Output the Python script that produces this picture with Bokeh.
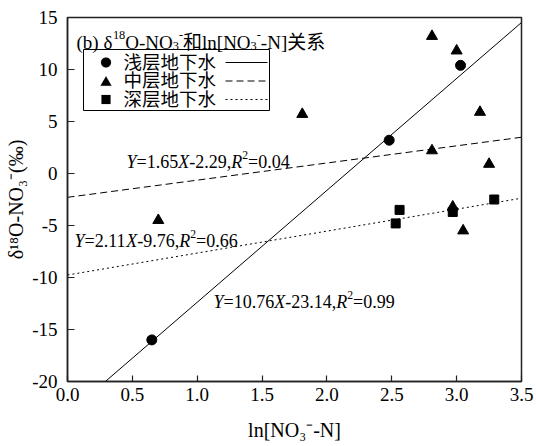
import math
from bokeh.plotting import figure
from bokeh.models import (Range1d, FixedTicker, Label, BoxAnnotation, PolyAnnotation, Arrow)
from bokeh.embed import file_html
from bokeh.resources import INLINE

# ---------------- data ----------------
shallow_x = [0.65, 2.48, 3.03]
shallow_y = [-16.0, 3.2, 10.4]
middle_x = [0.70, 1.81, 2.81, 3.00, 3.18, 2.81, 3.25, 2.97, 3.05]
middle_y = [-4.5, 5.7, 13.2, 11.8, 5.9, 2.2, 0.9, -3.2, -5.5]
deep_x = [2.53, 2.56, 2.97, 3.29]
deep_y = [-4.8, -3.5, -3.7, -2.5]

series_names = ["浅层地下水", "中层地下水", "深层地下水"]
fit_slope = [10.76, 1.65, 2.11]
fit_intercept = [-23.14, -2.29, -9.76]
fit_r2 = [0.99, 0.04, 0.66]

x_ticks = [0.0, 0.5, 1.0, 1.5, 2.0, 2.5, 3.0, 3.5]
x_tick_labels = ["0.0", "0.5", "1.0", "1.5", "2.0", "2.5", "3.0", "3.5"]
y_ticks = [-20, -15, -10, -5, 0, 5, 10, 15]
y_tick_labels = ["-20", "-15", "-10", "-5", "0", "5", "10", "15"]

x_title = "ln[NO₃⁻-N]"
y_title = "δ¹⁸O-NO₃⁻(‰)"

SERIF = "Liberation Serif"
FONT = "Liberation Serif, Noto Sans CJK SC"
W, H = 536, 446
FL, FR, FT, FB = 67, 15, 17, 65
FRAME_BOTTOM = H - FB


def sx(cx):
    return cx - FL


def sy(cy):
    return FRAME_BOTTOM - cy


p = figure(width=W, height=H, output_backend="svg", toolbar_location=None, tools="",
           x_range=Range1d(x_ticks[0], x_ticks[-1]), y_range=Range1d(y_ticks[0], y_ticks[-1]),
           min_border_left=FL, min_border_right=FR, min_border_top=FT, min_border_bottom=FB)
p.background_fill_color = "white"
p.border_fill_color = "white"
p.outline_line_color = "#222222"
p.outline_line_width = 1.5
p.xgrid.visible = False
p.ygrid.visible = False

p.xaxis.ticker = FixedTicker(ticks=x_ticks)
p.yaxis.ticker = FixedTicker(ticks=y_ticks)
p.xaxis.major_label_overrides = {t: l for t, l in zip(x_ticks, x_tick_labels)}
p.yaxis.major_label_overrides = {t: l for t, l in zip(y_ticks, y_tick_labels)}
for ax in (p.xaxis, p.yaxis):
    ax.axis_line_color = "#222222"
    ax.axis_line_width = 1.5
    ax.major_tick_line_color = "#222222"
    ax.major_tick_line_width = 1.2
    ax.major_tick_out = 0
    ax.minor_tick_in = 0
    ax.minor_tick_out = 0
    ax.major_label_text_font = SERIF
    ax.major_label_text_font_size = "19px"
    ax.major_label_text_color = "black"
    ax.axis_label_text_font = SERIF
    ax.axis_label_text_font_size = "20px"
    ax.axis_label_text_font_style = "normal"
    ax.axis_label_text_color = "black"
p.xaxis.major_tick_in = 6
p.yaxis.major_tick_in = 7
p.xaxis.major_label_standoff = 6
p.yaxis.major_label_standoff = 10
p.xaxis.axis_label = x_title
p.yaxis.axis_label = y_title
p.xaxis.axis_label_standoff = 15
p.yaxis.axis_label_standoff = 2

# ---------------- fit lines ----------------
dashes = ["solid", "7 4", "2 3"]
fit_x = [x_ticks[0], x_ticks[-1]]
for a, b, d in zip(fit_slope, fit_intercept, dashes):
    ys = [a * x + b for x in fit_x]
    p.line(fit_x, ys, line_color="black", line_width=1, line_dash=d)

# ---------------- points ----------------
p.scatter(shallow_x, shallow_y, marker="circle", size=10, color="black")
p.scatter(middle_x, middle_y, marker="triangle", size=11, color="black")
p.scatter(deep_x, deep_y, marker="square", size=9, color="black")

# ---------------- legend (drawn as annotations) ----------------
LEG_L, LEG_R, LEG_T, LEG_B = 83, 269, 49, 110
ROWS = [62, 80.5, 99]
KEY_X, TEXT_X, LINE_X0, LINE_X1 = 105.5, 123, 225, 267
p.add_layout(BoxAnnotation(left=sx(LEG_L), right=sx(LEG_R), top=sy(LEG_T), bottom=sy(LEG_B),
                           left_units="screen", right_units="screen",
                           top_units="screen", bottom_units="screen",
                           fill_color="white", fill_alpha=1.0,
                           line_color="black", line_width=1, line_alpha=1.0))


def key_shape(kind, cx, cy):
    if kind == "circle":
        r = 5.0
        pts = [(cx + r * math.cos(2 * math.pi * i / 28), cy + r * math.sin(2 * math.pi * i / 28))
               for i in range(28)]
    elif kind == "triangle":
        half, h = 5.5, 9.5
        pts = [(cx - half, cy + h / 2), (cx + half, cy + h / 2), (cx, cy - h / 2)]
    else:
        s = 4.5
        pts = [(cx - s, cy - s), (cx + s, cy - s), (cx + s, cy + s), (cx - s, cy + s)]
    return [sx(x) for x, _ in pts], [sy(y) for _, y in pts]


for kind, name, d, ry in zip(["circle", "triangle", "square"], series_names, dashes, ROWS):
    xs, ys = key_shape(kind, KEY_X, ry)
    p.add_layout(PolyAnnotation(xs=xs, ys=ys, xs_units="screen", ys_units="screen",
                                fill_color="black", fill_alpha=1.0, line_color="black", line_width=0.5))
    p.add_layout(Label(x=sx(TEXT_X), y=sy(ry), x_units="screen", y_units="screen", text=name,
                       text_font=FONT, text_font_size="18.5px", text_color="black",
                       text_align="left", text_baseline="middle"))
    p.add_layout(Arrow(x_start=sx(LINE_X0), y_start=sy(ry), x_end=sx(LINE_X1), y_end=sy(ry),
                       start_units="screen", end_units="screen", start=None, end=None,
                       line_color="black", line_width=1, line_dash=d))

# ---------------- rich text helper ----------------
WN = {' ': 250, '(': 333, ')': 333, '[': 333, ']': 333, 'b': 500, 'l': 278, 'n': 500,
      'N': 722, 'O': 722, '-': 333, '.': 250, ',': 250, '=': 564, '+': 564,
      'δ': 500, '‰': 1000}
for ch in "0123456789":
    WN[ch] = 500
WI = {'Y': 556, 'X': 611, 'R': 611}


def run_width(text, kind, size):
    fs = size * 0.65 if kind in ("sup", "sub") else size
    if kind == "cjk":
        return len(text) * fs
    tot = 0
    for ch in text:
        if kind == "i" and ch in WI:
            tot += WI[ch]
        else:
            tot += WN.get(ch, 500)
    return tot * fs / 1000.0


def put_runs(runs, cx, cy, size):
    """cx, cy: canvas position (px from top-left) of the baseline start."""
    pos = 0.0
    for text, kind in runs:
        fs = size * 0.65 if kind in ("sup", "sub") else size
        shift = 0.38 * size if kind == "sup" else (-0.17 * size if kind == "sub" else 0.0)
        p.add_layout(Label(x=sx(cx) + pos, y=sy(cy) + shift, x_units="screen", y_units="screen",
                           text=text, text_font=FONT, text_font_size=f"{fs:.2f}px",
                           text_font_style="italic" if kind == "i" else "normal",
                           text_color="black", text_align="left", text_baseline="alphabetic"))
        pos += run_width(text, kind, size)


# panel title
title_runs = [("(b) δ", "n"), ("18", "sup"), ("O-NO", "n"), ("3", "sub"), ("-", "sup"),
              ("和", "cjk"), ("ln[NO", "n"), ("3", "sub"), ("-", "sup"), ("-N]", "n"), ("关系", "cjk")]
put_runs(title_runs, 76, 42, 19)

# equations
eq_pos = [(213, 301), (126, 161), (74, 240)]
for a, b, r2, (ex, ey) in zip(fit_slope, fit_intercept, fit_r2, eq_pos):
    runs = [("Y", "i"), (f"={a:.2f}", "n"), ("X", "i"), (f"{b:.2f},", "n"),
            ("R", "i"), ("2", "sup"), (f"={r2:.2f}", "n")]
    put_runs(runs, ex, ey, 18)

open("out.html", "w").write(file_html(p, INLINE))
